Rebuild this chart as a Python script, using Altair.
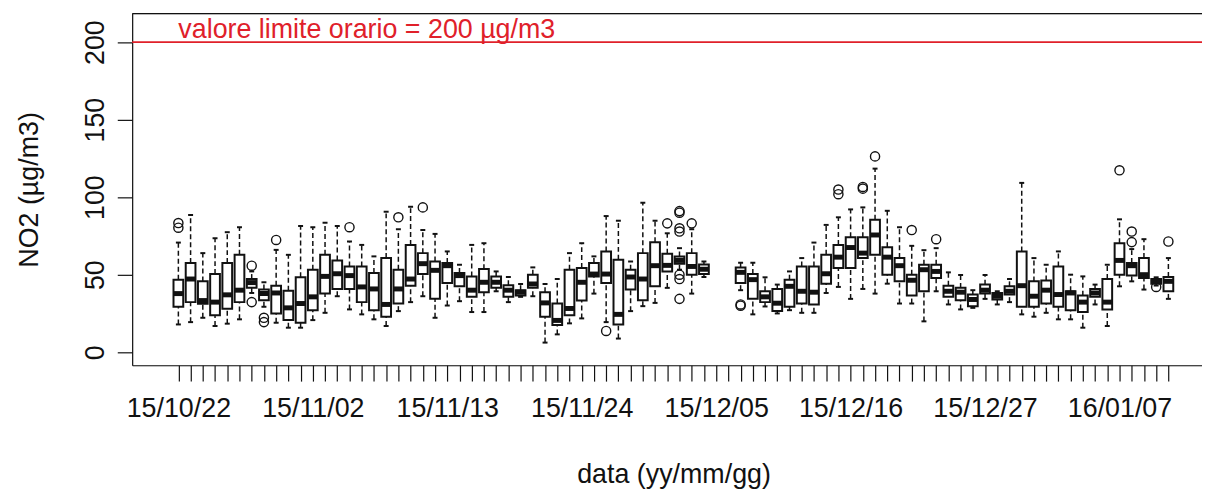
import altair as alt
import pandas as pd

# ---- data ----
dates = [d.strftime("%Y-%m-%d") for d in pd.date_range("2015-10-22", "2016-01-11", freq="D")]
tick_labels = ["15/10/22", "15/11/02", "15/11/13", "15/11/24", "15/12/05",
               "15/12/16", "15/12/27", "16/01/07"]

lo = [17.9, 19.4, 22.2, 16.9, 18.4, 21.2, 38.2, 29.3, 19.0, 15.8,
      15.8, 20.7, 25.4, 36.1, 27.6, 24.4, 21.2, 16.9, 26.5, 32.3,
      36.1, 22.2, 30.1, 32.9, 25.9, 25.9, 39.3, 32.3, 35.7, 36.1,
      6.2, 11.5, 18.6, 21.8, 37.8, 19.4, 8.8, 26.5, 29.7, 31.8,
      41.5, 53.2, 37.8, 48.5, None, None, 40.0, 24.4, 29.5, 25.0,
      27.1, 25.4, 25.4, 38.2, 42.1, 34.4, 40.8, 37.8, 44.2, 31.4,
      31.4, 19.9, 39.3, 30.8, 27.6, 28.6, 34.4, 30.8, 32.3, 24.4,
      22.9, 25.4, 21.2, 21.2, 15.8, 30.8, 16.9, 42.5, 45.7, 40.4,
      43.0, 34.4]
q1 = [29.3, 32.3, 31.2, 23.9, 28.0, 32.3, 41.5, 33.5, 25.0, 20.7,
      19.0, 27.1, 37.8, 40.8, 40.8, 32.3, 27.1, 22.9, 31.4, 42.9,
      50.4, 34.4, 44.7, 42.5, 35.7, 38.7, 41.5, 35.7, 36.5, 41.5,
      22.9, 17.5, 23.9, 33.3, 48.9, 44.7, 17.9, 40.4, 33.5, 42.5,
      52.1, 57.1, 50.0, 50.5, None, None, 44.7, 34.4, 32.3, 26.5,
      29.3, 31.4, 30.8, 44.2, 54.3, 54.3, 60.7, 62.8, 50.0, 45.7,
      36.5, 39.3, 47.9, 35.7, 33.5, 29.7, 37.8, 34.0, 37.2, 29.3,
      29.3, 31.4, 29.3, 27.1, 25.9, 35.7, 27.6, 50.0, 49.4, 47.9,
      44.2, 39.3]
med = [37.8, 47.2, 33.3, 32.3, 37.0, 40.0, 44.9, 37.8, 38.2, 28.6,
       31.4, 35.7, 48.9, 50.6, 49.4, 42.1, 40.8, 30.8, 40.8, 47.2,
       57.1, 52.8, 55.8, 49.4, 40.0, 45.1, 45.1, 40.0, 38.7, 44.0,
       31.8, 20.5, 28.2, 45.1, 50.4, 50.4, 24.4, 48.5, 47.2, 55.8,
       56.0, 59.2, 55.3, 53.5, None, None, 51.5, 46.8, 35.7, 31.6,
       42.5, 39.3, 38.7, 50.6, 61.3, 67.5, 63.9, 75.6, 61.3, 55.8,
       46.4, 53.2, 52.1, 39.3, 38.7, 34.0, 40.0, 36.1, 39.3, 42.9,
       36.1, 40.0, 37.2, 38.2, 32.3, 38.2, 32.3, 59.2, 55.8, 50.0,
       45.7, 45.7]
q3 = [46.8, 57.5, 45.7, 50.4, 57.5, 62.8, 47.2, 40.4, 42.9, 39.7,
      48.3, 53.2, 62.8, 59.2, 55.3, 55.3, 51.1, 60.7, 53.2, 69.2,
      63.9, 58.5, 57.5, 51.1, 48.9, 53.6, 48.9, 43.2, 40.0, 50.0,
      38.7, 31.4, 53.2, 54.3, 57.5, 65.0, 59.6, 53.2, 63.9, 70.9,
      63.5, 61.8, 63.9, 56.5, None, None, 54.7, 50.4, 39.3, 40.8,
      46.8, 55.3, 55.3, 62.8, 69.2, 74.1, 74.1, 85.5, 67.7, 60.7,
      50.0, 56.4, 56.4, 42.9, 41.5, 37.2, 43.6, 38.2, 42.5, 65.0,
      45.7, 46.2, 55.3, 39.3, 36.5, 40.8, 47.2, 70.3, 57.5, 60.7,
      47.2, 48.5]
hi = [70.7, 88.5, 63.9, 73.5, 77.4, 80.6, 52.1, 45.1, 66.0, 62.8,
      81.4, 80.6, 83.5, 81.4, 71.4, 69.2, 61.8, 90.6, 79.3, 93.8,
      78.8, 76.3, 65.0, 56.4, 69.2, 70.3, 52.1, 48.5, 44.0, 54.7,
      44.0, 47.2, 63.9, 70.3, 61.8, 87.8, 84.8, 58.5, 96.4, 84.8,
      76.7, 67.1, 79.3, 58.5, None, None, 57.7, 57.7, 48.3, 43.6,
      52.1, 60.7, 70.7, 82.1, 87.0, 92.1, 93.4, 118.4, 91.2, 80.6,
      68.6, 65.8, 67.1, 51.5, 49.8, 40.0, 49.8, 39.3, 47.2, 109.2,
      60.7, 56.4, 65.0, 50.0, 48.9, 43.6, 56.4, 85.7, 66.5, 72.9,
      48.3, 60.7]

out_day = [0, 0, 6, 6, 7, 7, 8, 14, 18, 20, 35, 40,
           41, 41, 41, 41, 41, 41, 41, 42, 46, 46,
           54, 54, 56, 56, 57, 60, 62, 77, 78, 78, 80, 81]
out_val = [83.3, 80.3, 55.8, 32.3, 22.2, 19.4, 72.4, 80.6, 87.0, 93.4, 13.7, 83.1,
           91.0, 90.0, 79.9, 77.8, 50.0, 47.2, 34.4, 83.1, 30.8, 30.0,
           104.9, 101.9, 106.6, 105.5, 126.3, 78.8, 72.9, 117.3, 77.8, 71.0, 42.1, 71.4]

limit_value = 200
limit_text = "valore limite orario = 200 µg/m3"

# ---- tables ----
boxes = pd.DataFrame({"date": dates, "lo": lo, "q1": q1, "med": med, "q3": q3, "hi": hi})
boxes["idx"] = range(len(dates))
boxes = boxes.dropna()
outl = pd.DataFrame({"idx": out_day, "val": out_val})

FONT = "Liberation Sans"
FS = 27
W, H = 1077, 354
INK = "#111111"
RED = "#e0202a"

labels_js = "[" + ",".join("'%s'" % t for t in tick_labels) + "]"

xscale = alt.Scale(domain=[-3.78, 83.75], nice=False, zero=False, padding=0)
yscale = alt.Scale(domain=[-8.4, 218.4], nice=False, zero=False, padding=0)

xaxis = alt.Axis(values=list(range(len(dates))), tickCount=200,
                 labelExpr="datum.value % 11 == 0 ? " + labels_js + "[datum.value / 11] : ''",
                 tickSize=16, tickColor=INK, tickWidth=1.2, domainColor=INK, domainWidth=1.2,
                 labelPadding=15, labelBaseline="top", labelAlign="center", labelAngle=0,
                 labelFont=FONT, labelFontSize=FS, labelColor=INK, grid=False,
                 title="data (yy/mm/gg)", titleFont=FONT, titleFontSize=FS, titleFontWeight="normal",
                 titleColor=INK, titleX=545, titleY=118, titleBaseline="alphabetic", titleAlign="center",
                 labelOverlap=False)
yaxis = alt.Axis(values=[0, 50, 100, 150, 200], tickSize=15, tickColor=INK, tickWidth=1.2,
                 domainColor=INK, domainWidth=1.2, labelAngle=270, labelAlign="center",
                 labelBaseline="alphabetic", labelPadding=14, labelFont=FONT, labelFontSize=FS,
                 labelColor=INK, grid=False,
                 title="NO2 (µg/m3)", titleFont=FONT, titleFontSize=FS, titleFontWeight="normal",
                 titleColor=INK, titleAngle=270, titleX=-103, titleY=177,
                 titleBaseline="middle", titleAlign="center")

base = alt.Chart(boxes)
xs = alt.X("idx:Q", scale=xscale)

wh_up = base.mark_rule(color=INK, strokeWidth=1.5, strokeDash=[5, 3]).encode(
    x=alt.X("idx:Q", scale=xscale, axis=xaxis), y=alt.Y("q3:Q", scale=yscale, axis=yaxis), y2="hi:Q")
wh_lo = base.mark_rule(color=INK, strokeWidth=1.5, strokeDash=[5, 3]).encode(
    x=xs, y=alt.Y("lo:Q", scale=yscale), y2="q1:Q")
cap_hi = base.mark_tick(color=INK, orient="horizontal", size=5, thickness=2, opacity=1).encode(
    x=xs, y=alt.Y("hi:Q", scale=yscale))
cap_lo = base.mark_tick(color=INK, orient="horizontal", size=5, thickness=2, opacity=1).encode(
    x=xs, y=alt.Y("lo:Q", scale=yscale))
box = base.mark_bar(fill="white", stroke=INK, strokeWidth=2, size=9.8).encode(
    x=xs, y=alt.Y("q1:Q", scale=yscale), y2="q3:Q")
median = base.mark_tick(color=INK, orient="horizontal", size=10, thickness=5, opacity=1).encode(
    x=xs, y=alt.Y("med:Q", scale=yscale))
points = alt.Chart(outl).mark_point(shape="circle", filled=False, color=INK, size=85,
                                    strokeWidth=1.4, opacity=1).encode(
    x=xs, y=alt.Y("val:Q", scale=yscale))

limit_line = alt.Chart(pd.DataFrame({"v": [limit_value]})).mark_rule(
    color=RED, strokeWidth=1.6).encode(y=alt.Y("v:Q", scale=yscale))
limit_label = alt.Chart(pd.DataFrame({"v": [limit_value], "idx": [0], "t": [limit_text]})).mark_text(
    align="left", baseline="alphabetic", color=RED, font=FONT, fontSize=FS, dx=0, dy=-4).encode(
    x=xs, y=alt.Y("v:Q", scale=yscale), text="t:N")
top_border = alt.Chart(pd.DataFrame({"v": [0]})).mark_rule(color=INK, strokeWidth=1.2).encode(
    y=alt.value(0))

chart = alt.layer(wh_up, wh_lo, cap_hi, cap_lo, box, median, points,
                  limit_line, limit_label, top_border).properties(
    width=W, height=H,
    autosize=alt.AutoSizeParams(type="none"),
    padding={"left": 125, "top": 4, "right": 0, "bottom": 125},
).configure_view(strokeWidth=0).configure(background="white")

chart.save("out.html", embed_options={"renderer": "svg", "actions": False})
